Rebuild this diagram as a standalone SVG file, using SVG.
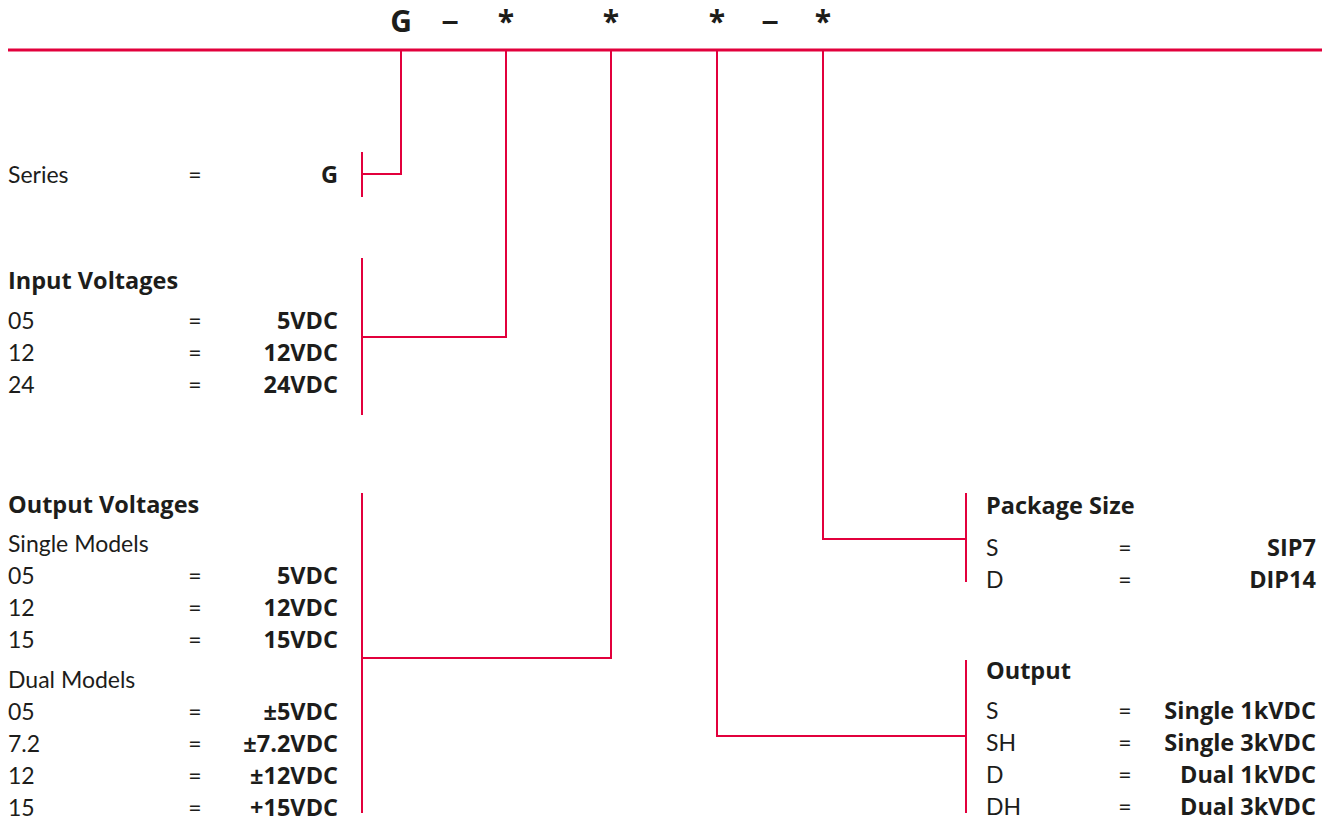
<svg xmlns="http://www.w3.org/2000/svg" width="1335" height="821" viewBox="0 0 1335 821">
<style>
text{font-family:Lato,"Open Sans","Liberation Sans",sans-serif;fill:#1d1d1b;font-size:23px}
.h,.r,.t{font-family:"Open Sans","Liberation Sans",sans-serif;font-weight:bold;font-size:23.5px}
.t{font-size:30px;text-anchor:middle}
.d{font-family:"Liberation Sans",Arial,sans-serif;font-size:30px}
.r{text-anchor:end}
.e{text-anchor:middle}
.ln{stroke:#e2003c;stroke-width:2;fill:none}
</style>
<rect width="1335" height="821" fill="#fff"/>
<g id="code">
<text class="t" x="401" y="32">G</text>
<text class="t d" x="450" y="31">–</text>
<text class="t" x="506" y="32">*</text>
<text class="t" x="611" y="32">*</text>
<text class="t" x="717" y="32">*</text>
<text class="t d" x="770" y="31">–</text>
<text class="t" x="823" y="32">*</text>
</g>
<g id="connectors">
<line class="ln" x1="8" y1="50" x2="1322" y2="50" style="stroke-width:3"/>
<polyline class="ln" points="401,50 401,174 362,174"/>
<line class="ln" x1="362" y1="152" x2="362" y2="197"/>
<polyline class="ln" points="506,50 506,337 362,337"/>
<line class="ln" x1="362" y1="258" x2="362" y2="415"/>
<polyline class="ln" points="611,50 611,658 362,658"/>
<line class="ln" x1="362" y1="493" x2="362" y2="813"/>
<polyline class="ln" points="823,50 823,539 966,539"/>
<line class="ln" x1="966" y1="493" x2="966" y2="582"/>
<polyline class="ln" points="717,50 717,736 966,736"/>
<line class="ln" x1="966" y1="660" x2="966" y2="813"/>
</g>
<g id="series">
<text x="8" y="183">Series</text><text class="e" x="195" y="183">=</text><text class="r" x="338" y="183">G</text>
</g>
<g id="input">
<text class="h" x="8" y="289">Input Voltages</text>
<text x="8" y="329">05</text><text class="e" x="195" y="329">=</text><text class="r" x="338" y="329">5VDC</text>
<text x="8" y="361">12</text><text class="e" x="195" y="361">=</text><text class="r" x="338" y="361">12VDC</text>
<text x="8" y="393">24</text><text class="e" x="195" y="393">=</text><text class="r" x="338" y="393">24VDC</text>
</g>
<g id="output-voltages">
<text class="h" x="8" y="513">Output Voltages</text>
<text x="8" y="552">Single Models</text>
<text x="8" y="584">05</text><text class="e" x="195" y="584">=</text><text class="r" x="338" y="584">5VDC</text>
<text x="8" y="616">12</text><text class="e" x="195" y="616">=</text><text class="r" x="338" y="616">12VDC</text>
<text x="8" y="648">15</text><text class="e" x="195" y="648">=</text><text class="r" x="338" y="648">15VDC</text>
<text x="8" y="688">Dual Models</text>
<text x="8" y="720">05</text><text class="e" x="195" y="720">=</text><text class="r" x="338" y="720">±5VDC</text>
<text x="8" y="752">7.2</text><text class="e" x="195" y="752">=</text><text class="r" x="338" y="752">±7.2VDC</text>
<text x="8" y="784">12</text><text class="e" x="195" y="784">=</text><text class="r" x="338" y="784">±12VDC</text>
<text x="8" y="816">15</text><text class="e" x="195" y="816">=</text><text class="r" x="338" y="816">+15VDC</text>
</g>
<g id="package">
<text class="h" x="986" y="514">Package Size</text>
<text x="986" y="556">S</text><text class="e" x="1125" y="556">=</text><text class="r" x="1316" y="556">SIP7</text>
<text x="986" y="588">D</text><text class="e" x="1125" y="588">=</text><text class="r" x="1316" y="588">DIP14</text>
</g>
<g id="output">
<text class="h" x="986" y="679">Output</text>
<text x="986" y="719">S</text><text class="e" x="1125" y="719">=</text><text class="r" x="1316" y="719">Single 1kVDC</text>
<text x="986" y="751">SH</text><text class="e" x="1125" y="751">=</text><text class="r" x="1316" y="751">Single 3kVDC</text>
<text x="986" y="783">D</text><text class="e" x="1125" y="783">=</text><text class="r" x="1316" y="783">Dual 1kVDC</text>
<text x="986" y="815">DH</text><text class="e" x="1125" y="815">=</text><text class="r" x="1316" y="815">Dual 3kVDC</text>
</g>
</svg>
